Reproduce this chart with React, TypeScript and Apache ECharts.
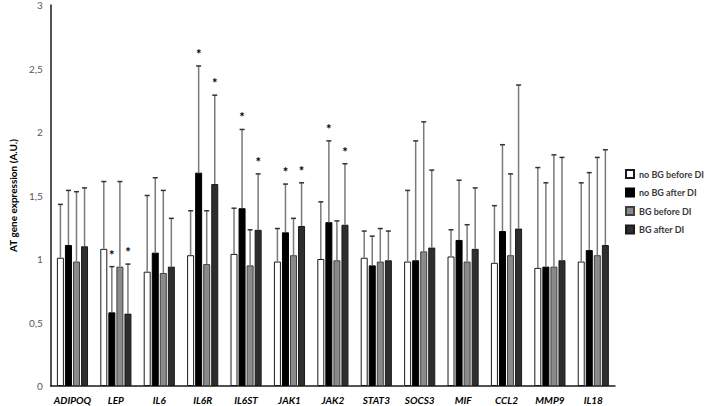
import React, { useEffect, useRef } from "react";
import * as echarts from "echarts";

const categories = ["ADIPOQ", "LEP", "IL6", "IL6R", "IL6ST", "JAK1", "JAK2", "STAT3", "SOCS3", "MIF", "CCL2", "MMP9", "IL18"];
const seriesNames = ["no BG before DI", "no BG after DI", "BG before DI", "BG after DI"];

const noBGBefore = [1.01, 1.08, 0.9, 1.03, 1.04, 0.98, 1.0, 1.01, 0.98, 1.02, 0.97, 0.93, 0.98];
const noBGBeforeErr = [1.43, 1.61, 1.5, 1.38, 1.4, 1.24, 1.45, 1.22, 1.54, 1.23, 1.42, 1.72, 1.6];
const noBGAfter = [1.11, 0.58, 1.05, 1.68, 1.4, 1.21, 1.29, 0.95, 0.99, 1.15, 1.22, 0.94, 1.07];
const noBGAfterErr = [1.54, 0.94, 1.64, 2.52, 2.02, 1.59, 1.93, 1.18, 1.93, 1.62, 1.9, 1.6, 1.68];
const bgBefore = [0.98, 0.94, 0.89, 0.96, 0.95, 1.03, 0.99, 0.98, 1.06, 0.98, 1.03, 0.94, 1.03];
const bgBeforeErr = [1.53, 1.61, 1.54, 1.38, 1.23, 1.32, 1.3, 1.24, 2.08, 1.27, 1.67, 1.82, 1.8];
const bgAfter = [1.1, 0.57, 0.94, 1.59, 1.23, 1.26, 1.27, 0.99, 1.09, 1.08, 1.24, 0.99, 1.11];
const bgAfterErr = [1.56, 0.96, 1.32, 2.29, 1.67, 1.6, 1.75, 1.22, 1.7, 1.56, 2.37, 1.8, 1.86];
const noBGAfterSig = [0, 1, 0, 1, 1, 1, 1, 0, 0, 0, 0, 0, 0];
const bgAfterSig = [0, 1, 0, 1, 1, 1, 1, 0, 0, 0, 0, 0, 0];
const noSig = [0, 0, 0, 0, 0, 0, 0, 0, 0, 0, 0, 0, 0];

const yTicks = [0, 0.5, 1, 1.5, 2, 2.5, 3];

const BAR_W = 7;
const BAR_GAP = 1.05;

export default function App() {
  const ref = useRef<HTMLDivElement>(null);
  useEffect(() => {
    if (!ref.current) return;
    const chart = echarts.init(ref.current, undefined, { renderer: "svg" });
    const values = [noBGBefore, noBGAfter, bgBefore, bgAfter];
    const errs = [noBGBeforeErr, noBGAfterErr, bgBeforeErr, bgAfterErr];
    const sigs = [noSig, noBGAfterSig, noSig, bgAfterSig];
    const fills = ["#ffffff", "#000000", "#8a8a8a", "#2e2e2e"];
    const borders = ["#1a1a1a", "#000000", "#404040", "#1a1a1a"];

    const errData: number[][] = [];
    values.forEach((arr, s) => {
      arr.forEach((v, i) => {
        errData.push([i, v, s, errs[s][i], sigs[s][i]]);
      });
    });

    const barSeries = values.map((arr, s) => ({
      name: seriesNames[s],
      type: "bar",
      data: arr,
      barWidth: BAR_W,
      barGap: "15%",
      itemStyle: { color: fills[s], borderColor: borders[s], borderWidth: 1 },
    }));

    const option: any = {
      animation: false,
      grid: { left: 40, right: 93, top: 5, bottom: 20, containLabel: false },
      legend: {
        orient: "vertical",
        left: 625,
        top: 169,
        padding: 0,
        icon: "rect",
        itemWidth: 8,
        itemHeight: 8,
        itemGap: 8.5,
        data: seriesNames,
        textStyle: { fontSize: 9, fontWeight: "bold", color: "#3a3a3a", fontFamily: "Lato", lineHeight: 10 },
      },
      xAxis: {
        type: "category",
        data: categories,
        axisLine: { show: true, lineStyle: { color: "#1a1a1a", width: 1.5 } },
        axisTick: { show: false },
        axisLabel: {
          fontSize: 10,
          fontWeight: "bold",
          fontStyle: "italic",
          fontFamily: "Lato",
          color: "#000",
          margin: 9,
          interval: 0,
        },
      },
      yAxis: {
        type: "value",
        min: yTicks[0],
        max: yTicks[yTicks.length - 1],
        interval: 0.5,
        name: "AT gene expression (A.U.)",
        nameLocation: "middle",
        nameGap: 31,
        nameTextStyle: { fontSize: 10, fontWeight: "bold", color: "#000", fontFamily: "Lato" },
        axisLine: { show: true, lineStyle: { color: "#1a1a1a", width: 1.5 } },
        axisTick: { show: false },
        splitLine: { show: false },
        axisLabel: {
          fontSize: 10,
          color: "#595959",
          fontFamily: "Lato",
          margin: 8,
          formatter: (v: number) => String(v).replace(".", ","),
        },
      },
      series: [
        ...barSeries,
        {
          type: "custom",
          z: 5,
          data: errData,
          encode: { x: 0, y: 3 },
          renderItem: (params: any, api: any) => {
            const cat = api.value(0);
            const top = api.value(1);
            const s = api.value(2);
            const err = api.value(3);
            const sig = api.value(4);
            const p0 = api.coord([cat, top]);
            const p1 = api.coord([cat, err]);
            const x = p0[0] + (s - 1.5) * (BAR_W + BAR_GAP);
            const children: any[] = [
              {
                type: "line",
                shape: { x1: x, y1: p0[1], x2: x, y2: p1[1] },
                style: { stroke: "#7a7a7a", lineWidth: 1.5 },
              },
              {
                type: "line",
                shape: { x1: x - 2.5, y1: p1[1], x2: x + 2.5, y2: p1[1] },
                style: { stroke: "#333", lineWidth: 1.5 },
              },
            ];
            if (sig) {
              children.push({
                type: "text",
                style: {
                  text: "*",
                  x: x,
                  y: p1[1] - 12,
                  align: "center",
                  verticalAlign: "middle",
                  fontSize: 13,
                  fontWeight: "bold",
                  fontFamily: "Lato",
                  fill: "#000",
                },
              });
            }
            return { type: "group", children };
          },
        },
      ],
    };
    chart.setOption(option);
    return () => chart.dispose();
  }, []);
  return <div ref={ref} style={{ width: 708, height: 406, position: "absolute", left: 0, top: 0 }} />;
}
